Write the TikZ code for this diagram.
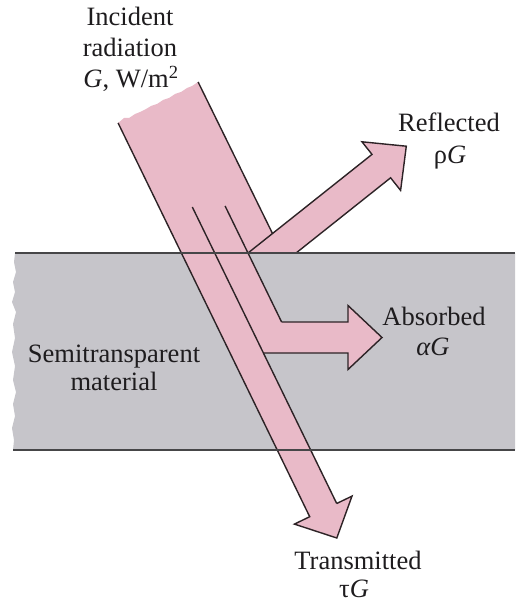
\documentclass[tikz,border=0pt]{standalone}
\usepackage{fontspec}
\setmainfont{Liberation Serif}
\definecolor{beampink}{RGB}{233,186,200}
\definecolor{slabgray}{RGB}{198,197,202}
\definecolor{edgeline}{RGB}{45,35,38}
\definecolor{slabline}{RGB}{70,70,72}
\definecolor{txt}{RGB}{30,28,30}
\begin{document}
\begin{tikzpicture}[x=1pt,y=-1pt,
  lbl/.style={anchor=base,inner sep=0pt,text=txt,font=\fontsize{26.5}{31}\selectfont},
  outline/.style={draw=edgeline,line width=1.4pt,line join=miter},
  slabedge/.style={draw=slabline,line width=1.6pt}]
\useasboundingbox (0,0) rectangle (515,604);
% slab
\fill[slabgray] (15,253) -- (515,253) -- (515,450) -- (13,450) -- (14,440) -- (12,428) -- (15,416) -- (13,404) -- (16,392) -- (13,380) -- (15,366) -- (12,352) -- (15,338) -- (13,324) -- (16,312) -- (12,302) -- (15,292) -- (13,282) -- (16,272) -- (14,262) -- cycle;
% key points
\coordinate (TL) at (118.1,123);
\coordinate (TR) at (198.1,82);
\coordinate (L1top) at (192.3,207);
\coordinate (L2top) at (225.1,206);
\coordinate (TrLs) at (309.7,516.7);
\coordinate (TrLb) at (294.4,524.1);
\coordinate (TrTip) at (336.8,538);
\coordinate (TrRb) at (352.0,496.1);
\coordinate (TrRs) at (336.7,503.5);
\coordinate (AbLo) at (263.4,353);
\coordinate (AbLs) at (348,353);
\coordinate (AbLb) at (348,369.5);
\coordinate (AbTip) at (382,337.5);
\coordinate (AbUb) at (348,305.5);
\coordinate (AbUs) at (348,322);
\coordinate (AbUp) at (281.6,322);
\coordinate (RfU0) at (248,253);
\coordinate (RfL0) at (296.1,253);
\coordinate (RfLs) at (390.6,177.8);
\coordinate (RfLb) at (400.6,190.4);
\coordinate (RfTip) at (406.3,146.2);
\coordinate (RfUb) at (362,141.8);
\coordinate (RfUs) at (372,154.4);
\coordinate (RMeet) at (272.6,233.7);
% beam fill
\fill[beampink] (TL) -- (TrLs) -- (TrLb) -- (TrTip) -- (TrRb) -- (TrRs) -- (AbLo) -- (AbLs) -- (AbLb) -- (AbTip) -- (AbUb) -- (AbUs) -- (AbUp) -- (RfU0) -- (RfL0) -- (RfLs) -- (RfLb) -- (RfTip) -- (RfUb) -- (RfUs) -- (RMeet) -- (TR)
  -- (192,86) -- (187,88) -- (181,92) -- (175,94) -- (169,98) -- (163,100) -- (157,104) -- (151,106) -- (146,109) -- (140,112) -- (135,114) -- (129,118) -- (124,118) -- cycle;
% outlines
\draw[outline] (TL) -- (TrLs) -- (TrLb) -- (TrTip) -- (TrRb) -- (TrRs);
\draw[outline] (L1top) -- (TrRs);
\draw[outline] (AbLo) -- (AbLs) -- (AbLb) -- (AbTip) -- (AbUb) -- (AbUs) -- (AbUp);
\draw[outline] (L2top) -- (AbUp);
\draw[outline] (RfU0) -- (RfUs) -- (RfUb) -- (RfTip) -- (RfLb) -- (RfLs) -- (RfL0);
\draw[outline] (TR) -- (RMeet);
% slab boundary lines
\draw[slabedge] (15,253) -- (515,253);
\draw[slabedge] (13,450) -- (515,450);
% labels
\node[lbl] (inc1) at (130,26) {Incident};
\node[lbl] (inc2) at (130,57) {radiation};
\node[lbl] (inc3) at (131,88) {\itshape G\upshape, W/m\textsuperscript{2}};
\node[lbl] (ref1) at (449,132) {Reflected};
\node[lbl] (ref2) at (450,164) {ρ\itshape G};
\node[lbl] (abs1) at (434,325) {Absorbed};
\node[lbl] (abs2) at (433,355) {\itshape αG};
\node[lbl] (semi1) at (114,362) {Semitransparent};
\node[lbl] (semi2) at (114,390) {material};
\node[lbl] (tr1) at (358,569) {Transmitted};
\node[lbl] (tr2) at (354,597) {τ\itshape G};
\end{tikzpicture}
\end{document}
